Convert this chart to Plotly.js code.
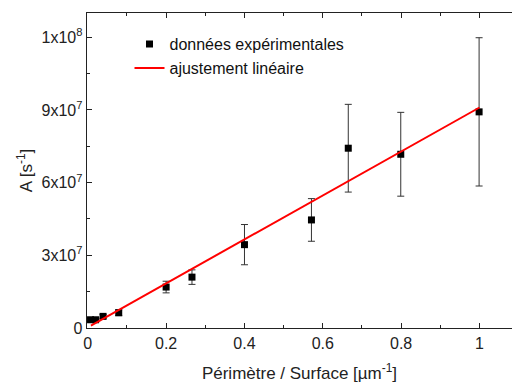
<!DOCTYPE html>
<html>
<head>
<meta charset="utf-8">
<script src="https://cdn.plot.ly/plotly-3.0.1.min.js"></script>
<style>html,body{margin:0;padding:0;background:#fff;}#chart{width:512px;height:385px;}</style>
</head>
<body>
<div id="chart"></div>
<script>
// Experimental data
var perimSurface = [0.007, 0.02, 0.039, 0.079, 0.2, 0.266, 0.4, 0.571, 0.665, 0.799, 0.999];
var rateA = [3.4e6, 3.4e6, 4.8e6, 6.3e6, 16.9e6, 21.0e6, 34.4e6, 44.6e6, 74.2e6, 71.7e6, 89.2e6];
var rateErr = [0.6e6, 0.6e6, 0.8e6, 1.2e6, 2.4e6, 3.0e6, 8.3e6, 8.8e6, 18.1e6, 17.3e6, 30.6e6];
// Linear fit
var fitX = [0.008, 1.0];
var fitY = [1.0e6, 91.0e6];
// Tick labels
var xTickVals = [0, 0.2, 0.4, 0.6, 0.8, 1];
var xTickText = ["0", "0.2", "0.4", "0.6", "0.8", "1"];
var yTickVals = [0, 3e7, 6e7, 9e7, 1.2e8];
var yTickText = ["0", "3x10<sup>7</sup>", "6x10<sup>7</sup>", "9x10<sup>7</sup>", "1x10<sup>8</sup>"];

var traces = [
  {
    x: perimSurface, y: rateA, type: 'scatter', mode: 'markers',
    name: 'données expérimentales',
    marker: {symbol: 'square', size: 7, color: '#000'},
    error_y: {type: 'data', array: rateErr, visible: true, color: '#333', thickness: 1, width: 3.5},
    cliponaxis: false
  },
  {
    x: fitX, y: fitY, type: 'scatter', mode: 'lines',
    name: 'ajustement linéaire',
    line: {color: '#ff0000', width: 2}
  }
];

var fam = 'Liberation Sans, Arial, sans-serif';
var font = {family: fam, size: 16, color: '#222'};

var layout = {
  width: 512, height: 385,
  margin: {l: 87, r: 0, t: 13, b: 57, pad: 0},
  paper_bgcolor: '#fff', plot_bgcolor: '#fff',
  font: font,
  showlegend: true,
  legend: {
    x: 0.1, y: 0.955, xanchor: 'left', yanchor: 'top',
    bgcolor: 'rgba(0,0,0,0)', borderwidth: 0,
    font: {family: fam, size: 16, color: '#111'},
    tracegroupgap: 0
  },
  xaxis: {
    range: [-0.002, 1.083],
    tickmode: 'array', tickvals: xTickVals, ticktext: xTickText,
    ticks: 'inside', ticklen: 5, tickwidth: 1, tickcolor: '#222',
    minor: {dtick: 0.1, ticks: 'inside', ticklen: 3, tickcolor: '#222'},
    showline: true, linecolor: '#222', linewidth: 1.3, mirror: 'ticks',
    showgrid: false, zeroline: false,
    title: {text: 'Périmètre / Surface [µm<sup>-1</sup>]', font: {family: fam, size: 17, color: '#222'}, standoff: 16},
    tickfont: font
  },
  yaxis: {
    range: [0, 1.3e8],
    tickmode: 'array', tickvals: yTickVals, ticktext: yTickText,
    ticks: 'inside', ticklen: 5, tickwidth: 1, tickcolor: '#222',
    minor: {dtick: 1.5e7, ticks: 'inside', ticklen: 3, tickcolor: '#222'},
    showline: true, linecolor: '#222', linewidth: 1.3, mirror: false,
    showgrid: false, zeroline: false,
    title: {text: 'A [s<sup>-1</sup>]', font: {family: fam, size: 17, color: '#222'}, standoff: 4},
    tickfont: font
  }
};

Plotly.newPlot('chart', traces, layout, {displayModeBar: false, staticPlot: true});
</script>
</body>
</html>
